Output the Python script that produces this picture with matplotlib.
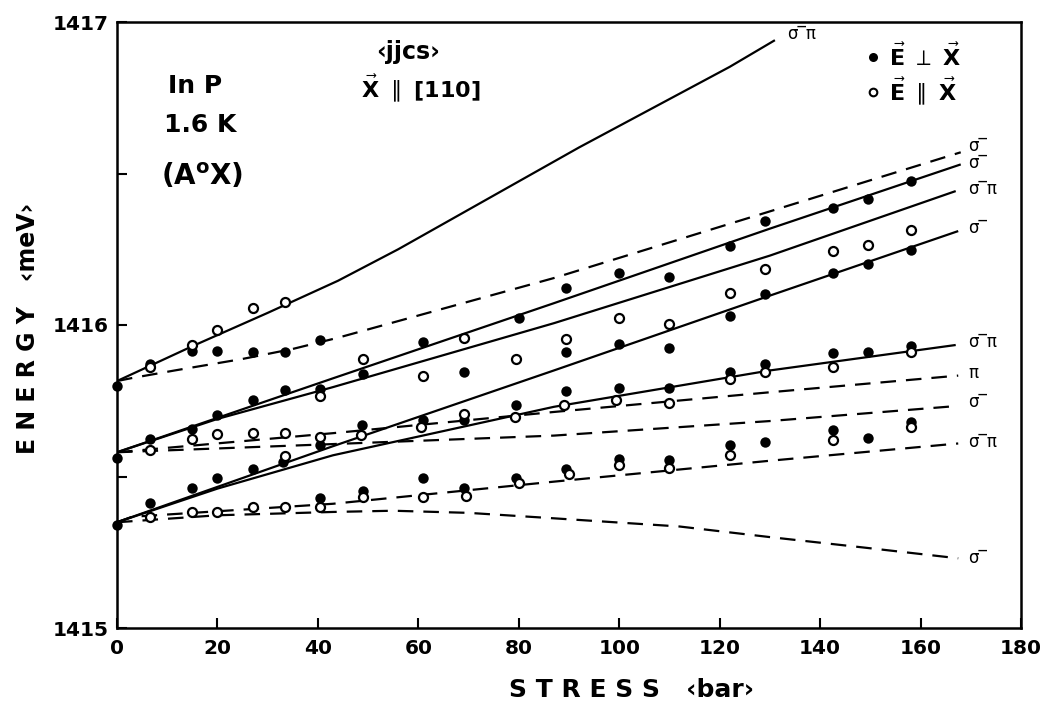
import matplotlib
matplotlib.use("Agg")
import matplotlib.pyplot as plt
from matplotlib.ticker import MultipleLocator, FuncFormatter

# ---------------- data ----------------
# filled points  (E perpendicular X)
filled_x = [0, 6.5, 15, 20, 27, 33.5, 40.5, 49, 61, 69, 80, 89.5, 100, 110, 122, 129, 142.5, 149.5, 158,
            0, 6.5, 15, 20, 27, 33.5, 40.5, 48.7, 61, 69, 79.5, 89.5, 100, 110, 122, 129, 142.5, 149.5, 158,
            40.5, 89.5, 100, 110, 122, 129, 142.5, 149.5, 158,
            0, 6.5, 15, 20, 27, 33, 40.5, 49, 61, 69, 79.5, 89.5, 100, 110, 122, 129, 142.5, 149.5, 158]
filled_E = [1415.80, 1415.872, 1415.915, 1415.915, 1415.912, 1415.912, 1415.952, 1415.839, 1415.943,
            1415.844, 1416.023, 1416.122, 1416.173, 1416.160, 1416.261, 1416.343, 1416.387, 1416.417, 1416.475,
            1415.561, 1415.625, 1415.658, 1415.704, 1415.751, 1415.784, 1415.789, 1415.669, 1415.685,
            1415.688, 1415.735, 1415.912, 1415.938, 1415.924, 1416.031, 1416.102, 1416.173, 1416.201, 1416.248,
            1415.603, 1415.781, 1415.792, 1415.792, 1415.844, 1415.872, 1415.908, 1415.910, 1415.932,
            1415.340, 1415.411, 1415.461, 1415.496, 1415.526, 1415.548, 1415.430, 1415.452, 1415.496,
            1415.463, 1415.496, 1415.526, 1415.559, 1415.556, 1415.603, 1415.614, 1415.655, 1415.627, 1415.680]

# open points (E parallel X)
open_x = [6.5, 15, 20, 27, 33.5, 40.5,
          6.5, 15, 20, 27, 33.5, 40.5, 33.5,
          6.5, 15, 20, 27, 33.5, 40.5,
          49, 61, 69, 79.5,
          48.5, 60.5, 69, 79.2,
          49, 61, 69.5, 80,
          89.5, 100, 110, 122, 129,
          89, 99.3, 110, 122, 129,
          90, 100, 110, 122,
          142.5, 149.5, 158,
          142.5, 158,
          142.5, 158]
open_E = [1415.861, 1415.934, 1415.985, 1416.055, 1416.077, 1415.767,
          1415.587, 1415.623, 1415.641, 1415.644, 1415.644, 1415.631, 1415.568,
          1415.367, 1415.382, 1415.382, 1415.400, 1415.400, 1415.400,
          1415.888, 1415.831, 1415.957, 1415.888,
          1415.638, 1415.663, 1415.705, 1415.696,
          1415.433, 1415.433, 1415.436, 1415.479,
          1415.954, 1416.022, 1416.003, 1416.105, 1416.184,
          1415.737, 1415.753, 1415.743, 1415.822, 1415.844,
          1415.507, 1415.537, 1415.529, 1415.572,
          1416.245, 1416.263, 1416.313,
          1415.861, 1415.912,
          1415.620, 1415.664]

# theoretical curves
top_sp_x = [0, 15, 30, 44, 56, 92, 122, 131]
top_sp_E = [1415.815, 1415.93, 1416.04, 1416.146, 1416.25, 1416.586, 1416.852, 1416.94]

top_s_dash_x = [0, 3, 11.5, 25, 35, 44, 87, 130, 168]
top_s_dash_E = [1415.815, 1415.825, 1415.85, 1415.888, 1415.921, 1415.958, 1416.155, 1416.375, 1416.57]

mid_s_x = [0, 43, 87, 130, 168]
mid_s_E = [1415.58, 1415.824, 1416.072, 1416.318, 1416.53]

mid_sp_x = [0, 20, 43, 87, 130, 167]
mid_sp_E = [1415.58, 1415.69, 1415.795, 1416.006, 1416.229, 1416.442]

bot_s_x = [0, 43, 87, 130, 167.5]
bot_s_E = [1415.349, 1415.60, 1415.85, 1416.097, 1416.31]

bot_sp_x = [0, 20, 43, 87, 130, 167]
bot_sp_E = [1415.349, 1415.46, 1415.57, 1415.73, 1415.85, 1415.934]

mid_p_dash_x = [0, 43, 87, 130, 167.5]
mid_p_dash_E = [1415.58, 1415.643, 1415.713, 1415.778, 1415.833]

mid_s_dash_x = [0, 43, 87, 130, 167.5]
mid_s_dash_E = [1415.58, 1415.607, 1415.635, 1415.683, 1415.733]

bot_sp_dash_x = [0, 3, 43, 87, 130, 167.5]
bot_sp_dash_E = [1415.349, 1415.367, 1415.41, 1415.483, 1415.552, 1415.609]

bot_s_dash_x = [0, 20, 43, 55, 70, 87, 112, 130, 149, 167.5]
bot_s_dash_E = [1415.349, 1415.372, 1415.383, 1415.387, 1415.38, 1415.362, 1415.335, 1415.30, 1415.265, 1415.23]

# right-hand labels
label_text = ["σ‾π", "σ‾", "σ‾", "σ‾π", "σ‾", "σ‾π", "π", "σ‾", "σ‾π", "σ‾"]
label_x = [133.5, 169.5, 169.5, 169.5, 169.5, 169.5, 169.5, 169.5, 169.5, 169.5]
label_E = [1416.96, 1416.59, 1416.535, 1416.45, 1416.32, 1415.945, 1415.84, 1415.745, 1415.615, 1415.23]

x_ticks = [0, 20, 40, 60, 80, 100, 120, 140, 160, 180]

# legend entries
legend_labels = [r"$\vec{\mathbf{E}}\ \perp\ \vec{\mathbf{X}}$", r"$\vec{\mathbf{E}}\ \parallel\ \vec{\mathbf{X}}$"]

# ---------------- figure ----------------
fig = plt.figure(figsize=(10.4, 7.04), dpi=100)
ax = fig.add_axes([117 / 1040, 1 - 628 / 704, (1021 - 117) / 1040, (628 - 22) / 704])

lw = 1.6
dash = (7, 4.5)
for xs, es in [(top_sp_x, top_sp_E), (mid_s_x, mid_s_E), (mid_sp_x, mid_sp_E),
               (bot_s_x, bot_s_E), (bot_sp_x, bot_sp_E)]:
    ax.plot(xs, es, color="black", lw=lw, solid_capstyle="butt")
for xs, es in [(top_s_dash_x, top_s_dash_E), (mid_p_dash_x, mid_p_dash_E),
               (mid_s_dash_x, mid_s_dash_E), (bot_sp_dash_x, bot_sp_dash_E),
               (bot_s_dash_x, bot_s_dash_E)]:
    ax.plot(xs, es, color="black", lw=lw, dashes=dash)

ax.plot(filled_x, filled_E, "o", color="black", ms=7.5, mew=0, clip_on=False, zorder=3)
ax.plot(open_x, open_E, "o", mfc="white", mec="black", ms=6.5, mew=1.6, clip_on=False, zorder=3)

for t, lx, le in zip(label_text, label_x, label_E):
    ax.text(lx, le, t, fontsize=12, va="center", ha="left")

ax.set_xlim(0, 180)
ax.set_ylim(1415, 1417)
ax.set_xticks(x_ticks)
ax.yaxis.set_major_locator(MultipleLocator(0.5))
ax.yaxis.set_major_formatter(FuncFormatter(lambda v, p: f"{v:.0f}" if abs(v - round(v)) < 1e-6 else ""))
ax.tick_params(direction="in", length=7, width=1.5, labelsize=14.5, top=False, right=False)
ax.tick_params(axis="y", pad=6)
ax.tick_params(axis="x", pad=8)
for lab in ax.get_xticklabels() + ax.get_yticklabels():
    lab.set_fontweight("bold")
    lab.set_family(["Liberation Sans Narrow", "DejaVu Sans"])
for s in ax.spines.values():
    s.set_linewidth(1.8)

ax.set_xlabel("S T R E S S   ‹bar›", fontsize=18, fontweight="bold")
ax.xaxis.label.set_va("center")
ax.xaxis.set_label_coords((631 - 117) / 904, (628 - 690) / 606)
ax.set_ylabel("E N E R G Y   ‹meV›", fontsize=17, fontweight="bold")
ax.yaxis.label.set_va("center")
ax.yaxis.set_label_coords((28 - 117) / 904, (628 - 328) / 606)

ax.text(15.5, 1416.79, "In P", fontsize=18, fontweight="bold", ha="center", va="center")
ax.text(16.5, 1416.66, "1.6 K", fontsize=18, fontweight="bold", ha="center", va="center")
ax.text(17, 1416.49, "(A$^{\\mathbf{o}}$X)", fontsize=20, fontweight="bold", ha="center", va="center")

ax.text(58, 1416.9, "‹jjcs›", fontsize=17, fontweight="bold", ha="center", va="center")
ax.text(48.5, 1416.78, r"$\vec{\mathbf{X}}$ $\parallel$ [110]", fontsize=16, fontweight="bold",
        ha="left", va="center")

# legend drawn by hand
ax.plot([150.5], [1416.885], "o", color="black", ms=6.5, mew=0)
ax.plot([150.5], [1416.77], "o", mfc="white", mec="black", ms=5.5, mew=1.5)
ax.text(153.8, 1416.885, legend_labels[0], fontsize=16, ha="left", va="center")
ax.text(153.8, 1416.77, legend_labels[1], fontsize=16, ha="left", va="center")

fig.savefig("out.png", dpi=100)
